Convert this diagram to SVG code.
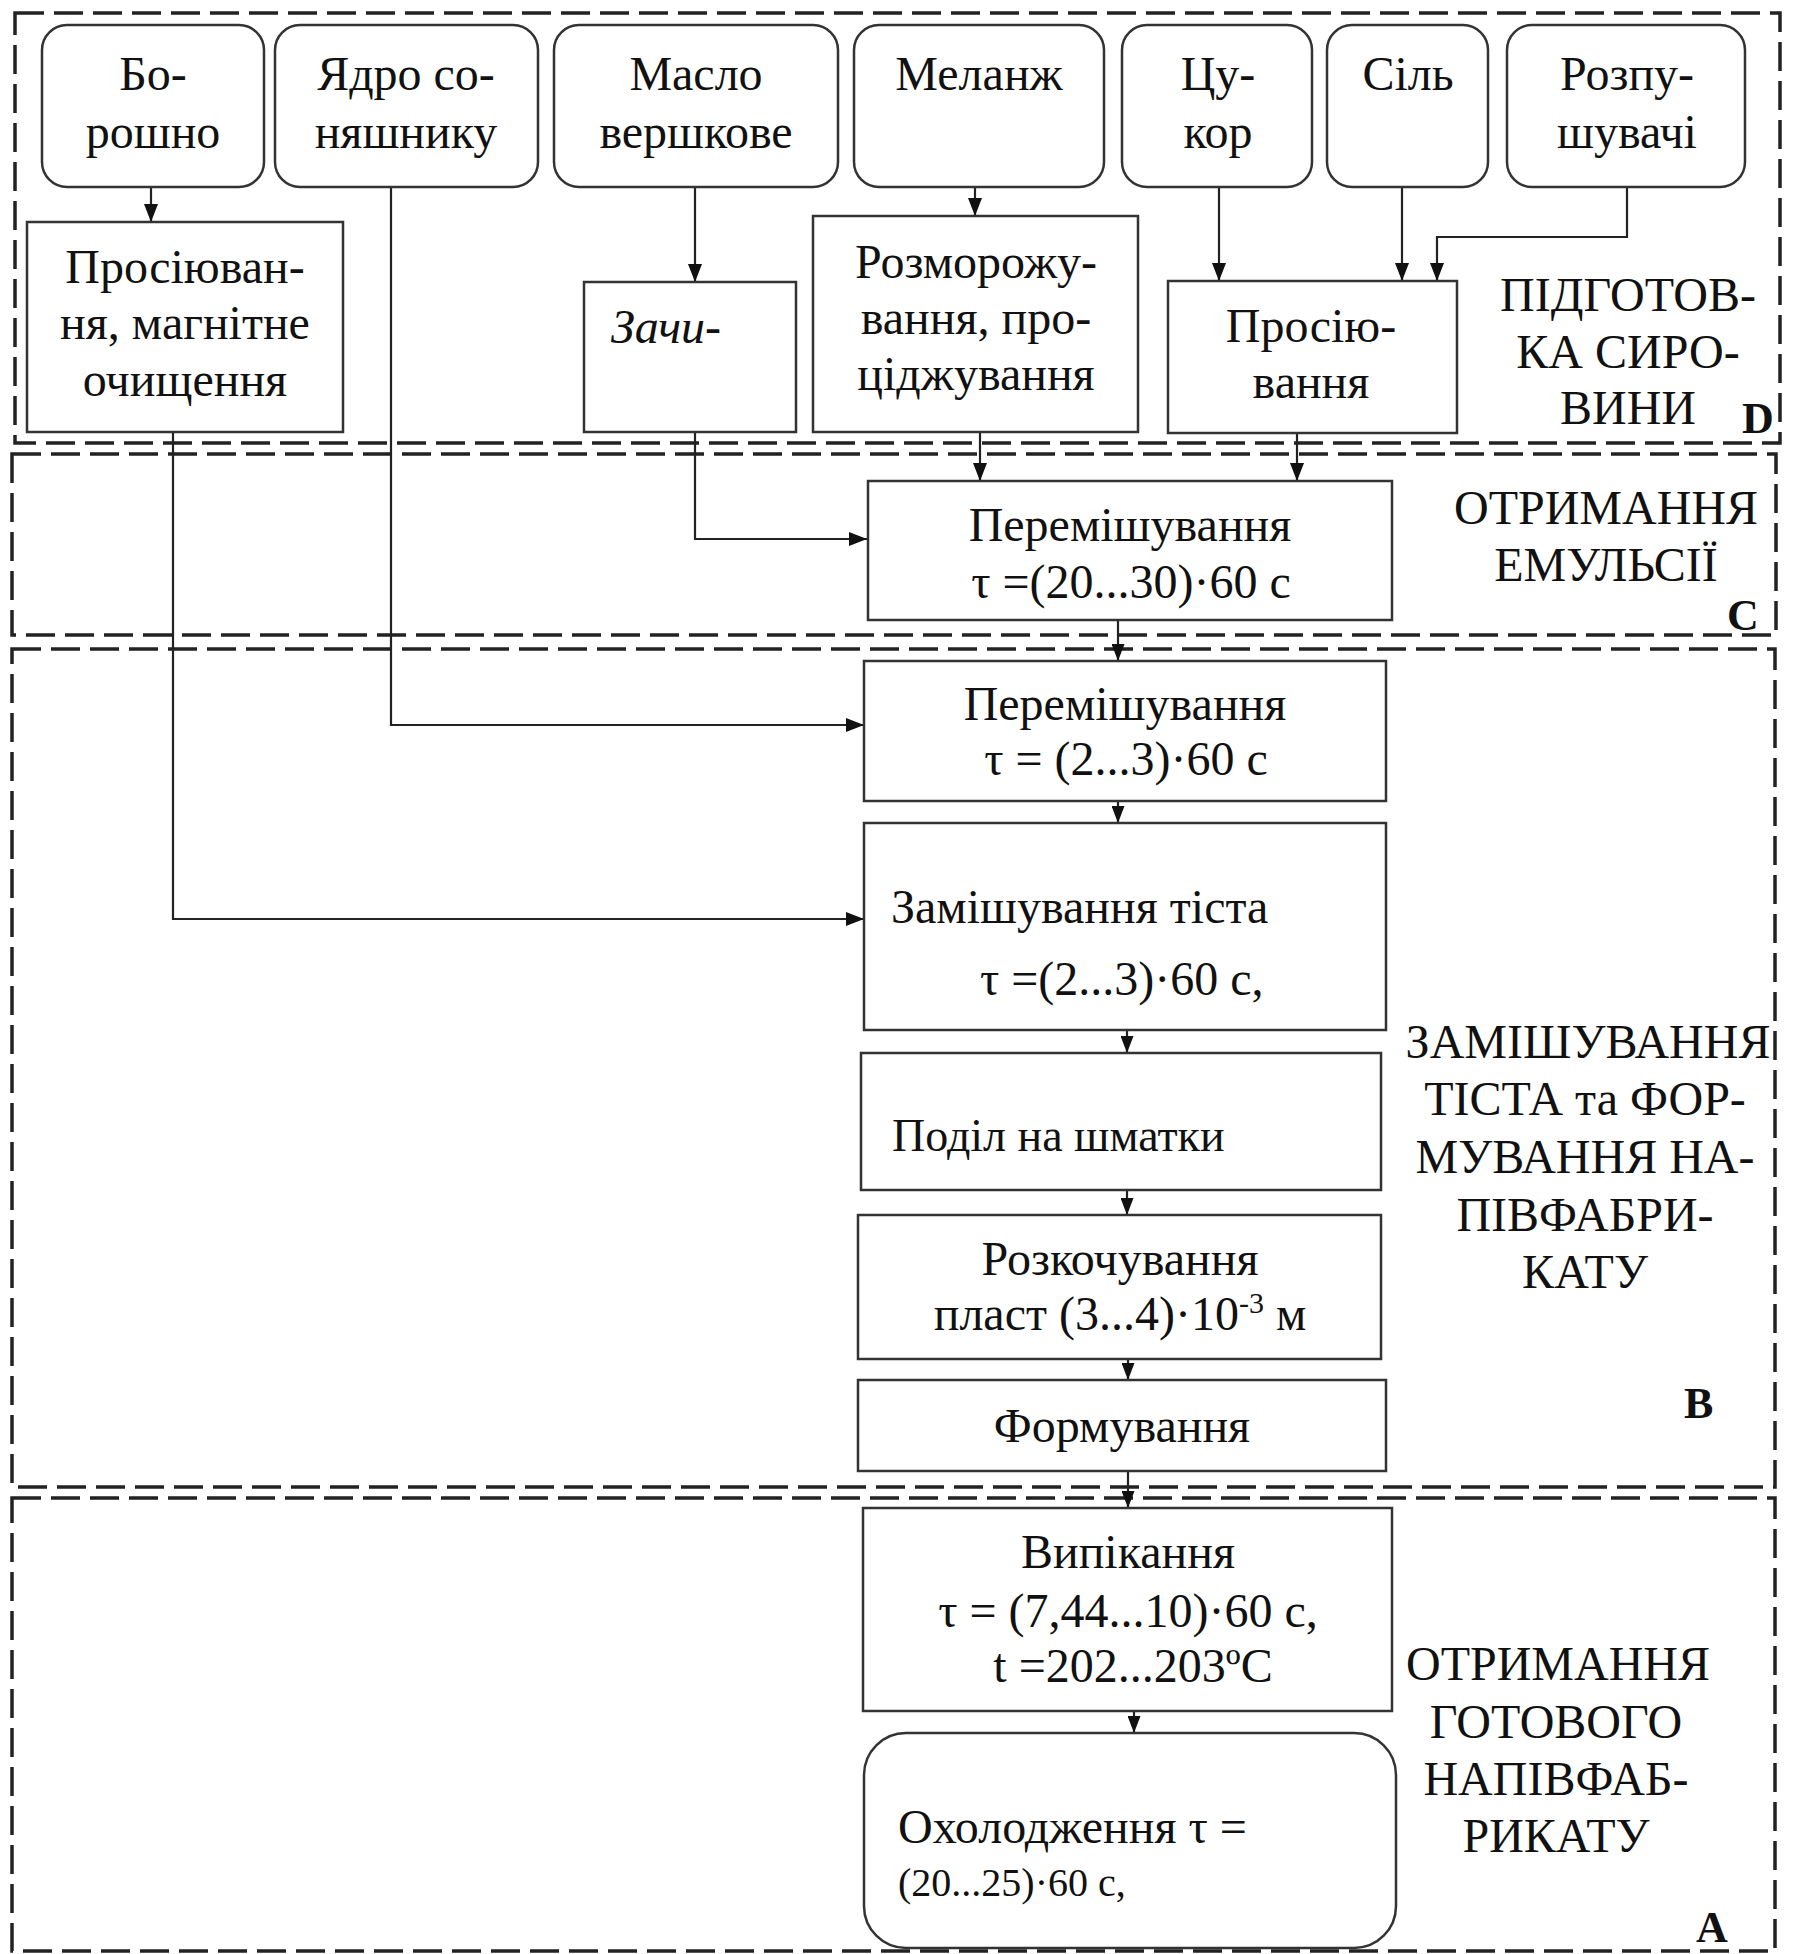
<svg xmlns="http://www.w3.org/2000/svg" width="1795" height="1954" viewBox="0 0 1795 1954">
<style>
.zone{fill:none;stroke:#222;stroke-width:3.5;stroke-dasharray:29 10}
.box{fill:#fff;stroke:#333;stroke-width:2.5}
.t{font-family:"Liberation Serif","Times New Roman",serif;font-size:48px;fill:#111;text-anchor:middle}
.s{text-anchor:start}
.lbl{font-family:"Liberation Serif","Times New Roman",serif;font-size:44px;font-weight:bold;fill:#111}
.cn{fill:none;stroke:#222;stroke-width:2.2}
</style>
<defs>
<marker id="ar" markerUnits="userSpaceOnUse" markerWidth="18" markerHeight="14" refX="18" refY="7" orient="auto">
<path d="M0,0 L18,7 L0,14 z" fill="#111"/>
</marker>
<marker id="ars" markerUnits="userSpaceOnUse" markerWidth="17" markerHeight="13" refX="17" refY="6.5" orient="auto">
<path d="M0,0 L17,6.5 L0,13 z" fill="#111"/>
</marker>
</defs>
<rect width="1795" height="1954" fill="#fff"/>

<g id="zones">
<rect class="zone" x="15" y="13" width="1765" height="430"/>
<rect class="zone" x="12" y="454" width="1764" height="181"/>
<rect class="zone" x="12" y="649" width="1763" height="838"/>
<rect class="zone" x="12" y="1498" width="1763" height="453"/>
</g>

<g id="connectors">
<path class="cn" d="M151,187 V222" marker-end="url(#ar)"/>
<path class="cn" d="M391,187 V725 H864" marker-end="url(#ar)"/>
<path class="cn" d="M173,432 V919 H864" marker-end="url(#ar)"/>
<path class="cn" d="M695,187 V282" marker-end="url(#ar)"/>
<path class="cn" d="M695,432 V539 H867" marker-end="url(#ar)"/>
<path class="cn" d="M975,187 V216" marker-end="url(#ar)"/>
<path class="cn" d="M980,432 V481" marker-end="url(#ar)"/>
<path class="cn" d="M1219,187 V281" marker-end="url(#ar)"/>
<path class="cn" d="M1402,187 V281" marker-end="url(#ar)"/>
<path class="cn" d="M1627,187 V237 H1437 V281" marker-end="url(#ar)"/>
<path class="cn" d="M1297,433 V481" marker-end="url(#ar)"/>
<path class="cn" d="M1118,620 V661" marker-end="url(#ars)"/>
<path class="cn" d="M1118,801 V823" marker-end="url(#ars)"/>
<path class="cn" d="M1127,1030 V1053" marker-end="url(#ars)"/>
<path class="cn" d="M1127,1190 V1215" marker-end="url(#ars)"/>
<path class="cn" d="M1128,1359 V1380" marker-end="url(#ars)"/>
<path class="cn" d="M1128,1471 V1508" marker-end="url(#ars)"/>
<path class="cn" d="M1134,1711 V1733" marker-end="url(#ars)"/>
</g>

<g id="n-boroshno"><rect class="box" x="42" y="25" width="222" height="162" rx="25"/>
<text class="t" x="153" y="90">Бо-</text><text class="t" x="153" y="148">рошно</text></g>
<g id="n-yadro"><rect class="box" x="275" y="25" width="263" height="162" rx="25"/>
<text class="t" x="406" y="90">Ядро со-</text><text class="t" x="406" y="148">няшнику</text></g>
<g id="n-maslo"><rect class="box" x="554" y="25" width="284" height="162" rx="25"/>
<text class="t" x="696" y="90">Масло</text><text class="t" x="696" y="148">вершкове</text></g>
<g id="n-melanzh"><rect class="box" x="854" y="25" width="250" height="162" rx="25"/>
<text class="t" x="979" y="90">Меланж</text></g>
<g id="n-tsukor"><rect class="box" x="1122" y="25" width="190" height="162" rx="25"/>
<text class="t" x="1218" y="90">Цу-</text><text class="t" x="1218" y="148">кор</text></g>
<g id="n-sil"><rect class="box" x="1327" y="25" width="161" height="162" rx="25"/>
<text class="t" x="1408" y="90">Сіль</text></g>
<g id="n-rozpush"><rect class="box" x="1507" y="25" width="238" height="162" rx="25"/>
<text class="t" x="1627" y="90">Розпу-</text><text class="t" x="1627" y="148">шувачі</text></g>

<g id="n-prosiyuv1"><rect class="box" x="27" y="222" width="316" height="210"/>
<text class="t" x="185" y="283">Просіюван-</text><text class="t" x="185" y="339">ня, магнітне</text><text class="t" x="185" y="396">очищення</text></g>
<g id="n-zachi"><rect class="box" x="584" y="282" width="212" height="150"/>
<text class="t s" x="611" y="343" font-style="italic">Зачи-</text></g>
<g id="n-rozmor"><rect class="box" x="813" y="216" width="325" height="216"/>
<text class="t" x="976" y="278">Розморожу-</text><text class="t" x="976" y="334">вання, про-</text><text class="t" x="976" y="390">ціджування</text></g>
<g id="n-prosiyuv2"><rect class="box" x="1168" y="281" width="289" height="152"/>
<text class="t" x="1311" y="342">Просію-</text><text class="t" x="1311" y="398">вання</text></g>

<g id="label-d">
<text class="t" x="1628" y="311">ПІДГОТОВ-</text><text class="t" x="1628" y="368">КА СИРО-</text><text class="t" x="1628" y="424">ВИНИ</text>
<text class="lbl" x="1742" y="433">D</text></g>

<g id="n-peremish1"><rect class="box" x="868" y="481" width="524" height="139"/>
<text class="t" x="1130" y="541">Перемішування</text><text class="t" x="1131" y="598">τ =(20...30)·60 с</text></g>
<g id="label-c">
<text class="t" x="1606" y="524">ОТРИМАННЯ</text><text class="t" x="1606" y="581">ЕМУЛЬСІЇ</text>
<text class="lbl" x="1727" y="630">C</text></g>

<g id="n-peremish2"><rect class="box" x="864" y="661" width="522" height="140"/>
<text class="t" x="1125" y="720">Перемішування</text><text class="t" x="1126" y="775">τ = (2...3)·60 с</text></g>
<g id="n-zamish"><rect class="box" x="864" y="823" width="522" height="207"/>
<text class="t s" x="891" y="923">Замішування тіста</text><text class="t s" x="980" y="995">τ =(2...3)·60 с,</text></g>
<g id="n-podil"><rect class="box" x="861" y="1053" width="520" height="137"/>
<text class="t s" x="892" y="1151" style="font-size:46px">Поділ на шматки</text></g>
<g id="n-rozkoch"><rect class="box" x="858" y="1215" width="523" height="144"/>
<text class="t" x="1120" y="1275">Розкочування</text><text class="t" x="1120" y="1330">пласт (3...4)·10<tspan font-size="30" dy="-17">-3</tspan><tspan dy="17"> м</tspan></text></g>
<g id="n-formuv"><rect class="box" x="858" y="1380" width="528" height="91"/>
<text class="t" x="1122" y="1442">Формування</text></g>
<g id="label-b">
<text class="t" x="1588" y="1058">ЗАМІШУВАННЯ</text><text class="t" x="1585" y="1115">ТІСТА та ФОР-</text><text class="t" x="1585" y="1173">МУВАННЯ НА-</text><text class="t" x="1585" y="1231">ПІВФАБРИ-</text><text class="t" x="1585" y="1288">КАТУ</text>
<text class="lbl" x="1684" y="1418">B</text></g>

<g id="n-vypik"><rect class="box" x="863" y="1508" width="529" height="203"/>
<text class="t" x="1128" y="1568">Випікання</text><text class="t" x="1128" y="1627">τ = (7,44...10)·60 с,</text><text class="t" x="1133" y="1682">t =202...203ºC</text></g>
<g id="n-okholod"><rect class="box" x="864" y="1733" width="532" height="215" rx="42"/>
<text class="t s" x="898" y="1843">Охолодження τ =</text><text class="t s" x="898" y="1896" style="font-size:40px">(20...25)·60 с,</text></g>
<g id="label-a">
<text class="t" x="1558" y="1680">ОТРИМАННЯ</text><text class="t" x="1556" y="1738">ГОТОВОГО</text><text class="t" x="1556" y="1795">НАПІВФАБ-</text><text class="t" x="1556" y="1852">РИКАТУ</text>
<text class="lbl" x="1696" y="1942">A</text></g>
</svg>
